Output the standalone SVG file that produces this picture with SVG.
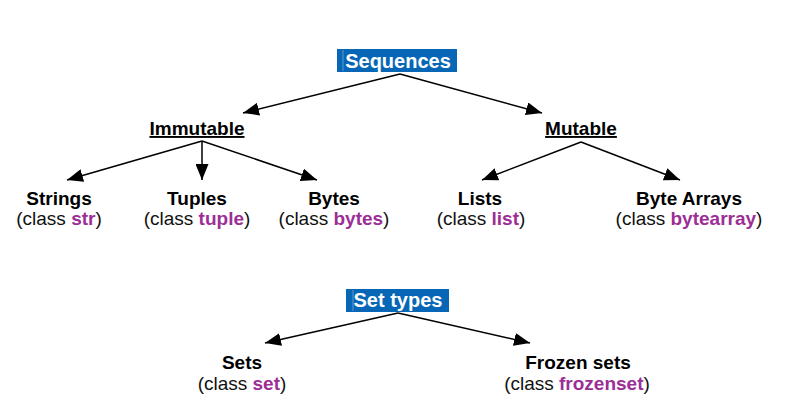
<svg xmlns="http://www.w3.org/2000/svg" width="800" height="400" viewBox="0 0 800 400">
<defs>
<marker id="ah" markerUnits="userSpaceOnUse" markerWidth="17" markerHeight="13" refX="16" refY="6.5" orient="auto"><path d="M0,0 L16,6.5 L0,13 z" fill="#000"/></marker>
<style>
text{font-family:"Liberation Sans",Arial,sans-serif;text-anchor:middle;}
.hd{font-size:20px;font-weight:bold;fill:#fff;}
.box{fill:#0767b6;}
.sep{stroke:#5f9ad0;stroke-width:1;}
.grp{font-size:19px;font-weight:bold;fill:#000;text-decoration:underline;}
.nm{font-size:19px;font-weight:bold;fill:#000;}
.cl{font-size:19px;fill:#111;}
.cl tspan{font-weight:bold;fill:#9c2e96;}
.ln{stroke:#000;stroke-width:1.5;fill:none;marker-end:url(#ah);}
</style>
</defs>
<rect width="800" height="400" fill="#fff"/>
<g id="sequences"><rect class="box" x="337" y="49" width="120" height="23"/><line class="sep" x1="343" y1="50" x2="343" y2="71"/><text class="hd" x="398" y="68">Sequences</text></g>
<g id="immutable"><text class="grp" x="197" y="135">Immutable</text></g>
<g id="mutable"><text class="grp" x="581" y="135">Mutable</text></g>
<g id="strings"><text class="nm" x="59" y="205">Strings</text><text class="cl" x="59" y="225">(class <tspan>str</tspan>)</text></g>
<g id="tuples"><text class="nm" x="197" y="205">Tuples</text><text class="cl" x="197" y="225">(class <tspan>tuple</tspan>)</text></g>
<g id="bytes"><text class="nm" x="334" y="205">Bytes</text><text class="cl" x="334" y="225">(class <tspan>bytes</tspan>)</text></g>
<g id="lists"><text class="nm" x="480" y="205">Lists</text><text class="cl" x="481" y="225">(class <tspan>list</tspan>)</text></g>
<g id="bytearrays"><text class="nm" x="689" y="205">Byte Arrays</text><text class="cl" x="689" y="225">(class <tspan>bytearray</tspan>)</text></g>
<g id="settypes"><rect class="box" x="346" y="289" width="103" height="23"/><line class="sep" x1="353" y1="290" x2="353" y2="311"/><text class="hd" x="398" y="307">Set types</text></g>
<g id="sets"><text class="nm" x="242" y="369">Sets</text><text class="cl" x="242" y="390">(class <tspan>set</tspan>)</text></g>
<g id="frozensets"><text class="nm" x="578" y="369">Frozen sets</text><text class="cl" x="577" y="390">(class <tspan>frozenset</tspan>)</text></g>
<g id="connectors">
<line class="ln" x1="400" y1="74" x2="243" y2="113"/>
<line class="ln" x1="400" y1="74" x2="542" y2="113"/>
<line class="ln" x1="202" y1="141" x2="67" y2="180"/>
<line class="ln" x1="202" y1="141" x2="202" y2="180"/>
<line class="ln" x1="202" y1="141" x2="317" y2="180"/>
<line class="ln" x1="581" y1="142" x2="482" y2="180"/>
<line class="ln" x1="581" y1="142" x2="680" y2="180"/>
<line class="ln" x1="398" y1="313" x2="265" y2="343"/>
<line class="ln" x1="398" y1="313" x2="530" y2="343"/>
</g>
</svg>
